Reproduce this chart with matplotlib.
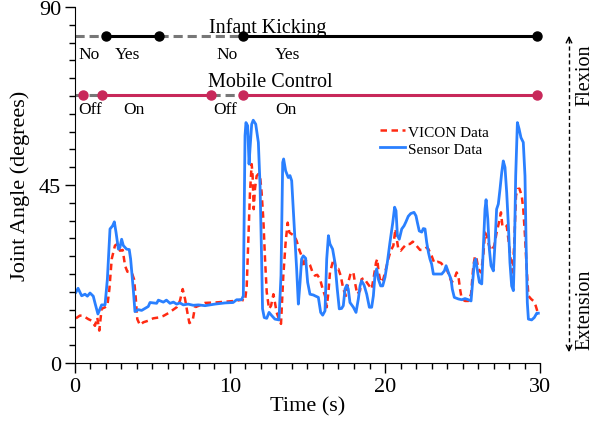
import matplotlib
matplotlib.use("Agg")
import matplotlib.pyplot as plt
import numpy as np
from matplotlib.lines import Line2D

plt.rcParams['font.family'] = ['Liberation Serif', 'DejaVu Serif']

# sensor data (time s, joint angle deg)
sensor_t = [0.06, 0.2, 0.43, 0.65, 0.8, 0.97, 1.18, 1.31, 1.48, 1.72, 1.94, 2.09, 2.26, 2.43, 2.54, 2.65, 2.8, 2.9,
            3.01, 3.12, 3.33, 3.5, 3.59, 3.76, 3.87, 4.09, 4.3, 4.73, 4.84, 5.27, 5.38, 5.7, 5.9, 6.13, 6.35, 6.56,
            6.77, 6.99, 7.3, 7.63, 7.96, 8.39, 9.03, 9.68, 10.2, 10.43, 10.75, 10.86, 10.97, 11.03, 11.14, 11.23,
            11.29, 11.4, 11.5, 11.66, 11.83, 11.94, 12.04, 12.1, 12.21, 12.37, 12.52, 12.69, 12.9, 13.16, 13.29,
            13.4, 13.46, 13.59, 13.76, 13.87, 13.98, 14.08, 14.19, 14.3, 14.41, 14.52, 14.62, 14.73, 14.88, 15.01,
            15.16, 15.38, 15.48, 15.7, 15.85, 15.98, 16.13, 16.24, 16.35, 16.45, 16.62, 16.77, 16.92, 17.05, 17.2,
            17.31, 17.42, 17.53, 17.63, 17.74, 17.96, 18.13, 18.28, 18.39, 18.49, 18.65, 18.82, 18.99, 19.14, 19.25,
            19.35, 19.46, 19.57, 19.72, 19.85, 20.0, 20.15, 20.32, 20.5, 20.62, 20.71, 20.8, 20.92, 21.08, 21.23,
            21.35, 21.5, 21.66, 21.87, 22.0, 22.09, 22.21, 22.37, 22.47, 22.58, 22.69, 22.8, 22.9, 23.01, 23.12,
            23.33, 23.66, 23.83, 23.94, 24.09, 24.26, 24.34, 24.47, 24.73, 24.95, 25.16, 25.38, 25.55, 25.63, 25.76,
            25.85, 25.98, 26.09, 26.24, 26.34, 26.45, 26.52, 26.63, 26.73, 26.84, 26.99, 27.1, 27.2, 27.31, 27.42,
            27.53, 27.63, 27.74, 27.85, 27.96, 28.06, 28.17, 28.28, 28.34, 28.43, 28.54, 28.65, 28.77, 28.92, 29.03,
            29.1, 29.18, 29.25, 29.46, 29.63, 29.79, 29.89]
sensor_a = [17.9, 18.9, 17.0, 17.4, 16.9, 17.7, 16.9, 14.9, 12.4, 14.7, 14.7, 21.2, 33.9, 34.7, 35.7, 33.0, 28.8, 29.2,
            31.3, 29.7, 28.8, 28.7, 26.3, 18.7, 13.0, 13.5, 13.3, 14.3, 15.3, 15.1, 15.9, 15.4, 15.9, 15.1, 15.4, 14.9,
            15.2, 14.7, 14.9, 14.6, 14.7, 14.5, 14.9, 15.2, 15.3, 16.0, 16.0, 17.0, 57.5, 60.8, 60.0, 50.3,
            54.1, 60.4, 61.4, 60.4, 55.8, 44.8, 26.3, 13.7, 11.5, 11.3, 12.8, 12.0, 11.1, 10.9, 22.1,
            50.7, 51.6, 48.6, 46.9, 47.4, 46.1, 38.9, 31.3, 23.8, 14.9, 20.4, 26.3, 27.1, 26.5, 20.4,
            17.4, 17.2, 17.0, 16.6, 12.8, 12.1, 13.2, 26.3, 32.2, 30.1, 28.8, 25.4, 18.7, 13.7, 13.8,
            14.5, 18.7, 19.7, 18.7, 15.3, 14.1, 12.8, 16.2, 19.5, 20.8, 19.7, 17.4, 14.1, 14.1, 17.0,
            22.1, 23.8, 21.2, 19.5, 19.5, 21.7, 25.4, 30.5, 35.5, 39.4, 38.5, 32.2, 31.3, 33.9, 34.7,
            35.7, 37.1, 37.8, 38.1, 37.2, 35.5, 33.4, 33.1, 34.0, 33.9, 30.5, 28.0, 26.3, 25.0, 22.5,
            22.5, 22.5, 23.3, 24.6, 22.9, 21.2, 18.7, 16.6, 16.2, 16.0, 16.3, 16.0, 15.7, 19.5, 25.4,
            26.3, 22.9, 20.4, 20.0, 28.8, 38.9, 41.3, 36.4, 28.8, 24.6, 23.3, 30.5, 38.9, 40.2, 44.0,
            48.2, 51.1, 49.5, 43.1, 34.7, 25.4, 19.5, 18.3, 26.3, 47.3, 60.8, 59.2, 57.0, 55.8, 47.3,
            30.5, 15.3, 11.1, 10.9, 11.5, 12.6, 12.6]

# VICON data (time s, joint angle deg)
vicon_t = [0.06, 0.32, 0.54, 0.86, 1.08, 1.29, 1.44, 1.57, 1.72, 1.94, 2.09, 2.22, 2.37, 2.58, 2.73, 2.9, 3.08, 3.23,
           3.38, 3.66, 3.81, 3.91, 4.02, 4.19, 4.41, 4.73, 5.05, 5.38, 5.7, 6.02, 6.24, 6.56, 6.77, 6.95, 7.1, 7.25,
           7.38, 7.59, 7.74, 8.0, 8.39, 9.03, 9.68, 10.32, 10.75, 10.97, 11.08, 11.18, 11.29, 11.4, 11.46, 11.53,
           11.61, 11.72, 11.83, 11.94, 12.04, 12.15, 12.26, 12.37, 12.52, 12.65, 12.8, 12.9, 13.01, 13.16, 13.29,
           13.44, 13.59, 13.72, 13.83, 13.98, 14.15, 14.3, 14.45, 14.62, 14.73, 14.84, 15.05, 15.16, 15.33, 15.48,
           15.63, 15.81, 15.98, 16.13, 16.24, 16.35, 16.45, 16.62, 16.71, 16.84, 16.99, 17.14, 17.31, 17.48, 17.63,
           17.79, 17.96, 18.06, 18.21, 18.39, 18.49, 18.65, 18.82, 18.99, 19.14, 19.29, 19.42, 19.5, 19.59, 19.72,
           19.89, 20.06, 20.21, 20.37, 20.54, 20.67, 20.76, 20.86, 21.01, 21.18, 21.4, 21.61, 21.79, 22.0, 22.26,
           22.47, 22.69, 22.8, 23.01, 23.18, 23.4, 23.61, 23.76, 23.98, 24.13, 24.3, 24.47, 24.62, 24.73, 24.84,
           24.95, 25.16, 25.38, 25.55, 25.7, 25.81, 25.91, 26.02, 26.19, 26.34, 26.45, 26.56, 26.71, 26.88, 27.05,
           27.2, 27.35, 27.48, 27.57, 27.7, 27.85, 27.96, 28.13, 28.24, 28.34, 28.45, 28.56, 28.67, 28.82, 28.92,
           29.03, 29.14, 29.25, 29.42, 29.57, 29.72, 29.85]
vicon_a = [11.3, 12.0, 11.9, 11.1, 10.7, 9.4, 11.5, 8.2, 13.7, 14.1, 14.5, 18.7, 26.3, 29.7, 30.1, 28.4, 28.6, 24.6,
           23.1, 22.9, 21.2, 17.0, 11.1, 9.6, 10.3, 10.7, 11.3, 11.5, 11.9, 12.6, 13.2, 14.1, 15.7, 18.7, 16.2, 12.8,
           10.1, 10.7, 14.1, 14.5, 15.2, 15.3, 15.5, 15.7, 16.0, 15.7, 19.5, 30.5, 43.1, 50.3, 47.3, 38.9,
           44.0, 47.3, 47.8, 47.3, 43.1, 36.4, 26.3, 17.9, 13.7, 14.5, 17.4, 15.3, 12.8, 11.1, 9.9,
           22.1, 30.5, 35.5, 33.0, 32.6, 32.2, 30.9, 28.8, 27.1, 24.2, 25.9, 25.4, 24.8, 22.9, 22.1,
           22.3, 21.2, 18.7, 17.0, 14.1, 17.9, 22.9, 25.4, 26.3, 23.8, 23.8, 22.1, 18.7, 17.0, 20.4,
           22.8, 22.9, 20.4, 17.4, 18.3, 21.2, 21.5, 20.4, 19.5, 18.7, 22.1, 25.4, 26.3, 22.9, 20.4,
           21.2, 23.8, 26.3, 28.4, 29.7, 33.9, 31.3, 28.8, 28.4, 29.2, 30.1, 30.1, 30.7, 29.8, 28.6,
           28.6, 29.2, 28.8, 27.1, 25.3, 25.6, 25.3, 24.6, 23.8, 22.1, 20.4, 21.2, 22.9, 22.1, 18.7,
           16.2, 15.7, 15.7, 17.4, 24.6, 27.1, 26.3, 23.8, 22.9, 27.1, 33.0, 32.2, 29.7, 28.4, 29.7,
           33.0, 35.5, 38.1, 34.7, 35.1, 34.7, 31.3, 25.4, 22.9, 30.5, 42.3, 44.0, 44.1, 42.3, 38.9,
           32.2, 23.8, 17.0, 16.2, 15.7, 14.5, 12.8]

# state bars at the top
kick_level = 82.6
kick_edges = [0, 2.0, 5.44, 10.86, 29.8]
kick_on = [False, True, False, True]
kick_labels = ["No", "Yes", "No", "Yes"]
kick_label_x = [0.9, 3.4, 9.8, 13.7]

mobile_level = 67.7
mobile_edges = [0, 1.76, 8.75, 10.86, 29.8]
mobile_on = [False, True, False, True]
mobile_markers = [0.54, 1.76, 8.75, 10.86, 29.8]
mobile_labels = ["Off", "On", "Off", "On"]
mobile_label_x = [0.97, 3.8, 9.7, 13.6]

blue = '#2a80ff'
red = '#ff2a12'
crimson = '#c8285a'
grey = '#777777'

fig = plt.figure(figsize=(5.95, 4.27), dpi=100)
ax = fig.add_axes([0.126, 0.1475, 0.7816, 0.8335])

ax.plot(vicon_t, vicon_a, color=red, lw=1.8, ls=(0, (2.6, 1.8)), label="VICON Data")
ax.plot(sensor_t, sensor_a, color=blue, lw=2.0, label="Sensor Data")

# infant kicking bar
for i in range(len(kick_on)):
    if kick_on[i]:
        ax.plot(kick_edges[i:i+2], [kick_level]*2, color='black', lw=2.2, solid_capstyle='butt', clip_on=False)
    else:
        ax.plot(kick_edges[i:i+2], [kick_level]*2, color=grey, lw=2.2, ls=(0, (3, 1.6)), clip_on=False)
ax.plot(kick_edges[1:], [kick_level]*4, 'o', color='black', ms=6.5, clip_on=False)
for lab, x in zip(kick_labels, kick_label_x):
    ax.text(x, kick_level - 5.5, lab, ha='center', va='baseline', fontsize=12.5)
ax.text(12.4, kick_level + 1.2, "Infant Kicking", ha='center', va='baseline', fontsize=14.5)

# mobile control bar
for i in range(len(mobile_on)):
    if mobile_on[i]:
        ax.plot(mobile_edges[i:i+2], [mobile_level]*2, color=crimson, lw=2.2, solid_capstyle='butt', clip_on=False)
    else:
        ax.plot(mobile_edges[i:i+2], [mobile_level]*2, color=grey, lw=2.2, ls=(0, (3, 1.6)), clip_on=False)
ax.plot(mobile_markers, [mobile_level]*5, 'o', color=crimson, ms=6.5, clip_on=False)
for lab, x in zip(mobile_labels, mobile_label_x):
    ax.text(x, mobile_level - 4.6, lab, ha='center', va='baseline', fontsize=12.5)
ax.text(12.6, mobile_level + 2.4, "Mobile Control", ha='center', va='baseline', fontsize=14.5)

ax.set_xlim(0, 30)
ax.set_ylim(0, 90)
ax.set_xticks([0, 10, 20, 30])
ax.set_yticks([0, 45, 90])
ax.set_xticks(np.arange(0, 31, 1), minor=True)
ax.set_yticks(np.arange(0, 90.1, 4.5), minor=True)
ax.tick_params(which='major', direction='out', length=7, width=1, labelsize=16, pad=3)
ax.tick_params(which='minor', direction='out', length=4, width=1)
ax.spines['top'].set_visible(False)
ax.spines['right'].set_visible(False)
ax.set_xlabel("Time (s)", fontsize=16, labelpad=0)
ax.set_ylabel("Joint Angle (degrees)", fontsize=16, labelpad=6)

ax.legend(loc='upper left', bbox_to_anchor=(0.64, 0.69), frameon=False, fontsize=11,
          handlelength=1.6, handletextpad=0.2, labelspacing=0.2, borderpad=0)

# flexion / extension arrow on the right
fig.add_artist(Line2D([569/595, 569/595], [1 - 40/427, 1 - 350/427], color='black', lw=1, ls=(0, (3, 2))))
ax.annotate("", xy=(569/595, 1 - 34/427), xytext=(569/595, 1 - 44/427), xycoords='figure fraction',
            arrowprops=dict(arrowstyle='->', lw=1, color='black'))
ax.annotate("", xy=(569/595, 1 - 356/427), xytext=(569/595, 1 - 346/427), xycoords='figure fraction',
            arrowprops=dict(arrowstyle='->', lw=1, color='black'))
fig.text(585/595, 1 - 75/427, "Flexion", rotation=90, ha='center', va='center', fontsize=14.5)
fig.text(585/595, 1 - 310/427, "Extension", rotation=90, ha='center', va='center', fontsize=14.5)

fig.savefig("out.png", dpi=100)
